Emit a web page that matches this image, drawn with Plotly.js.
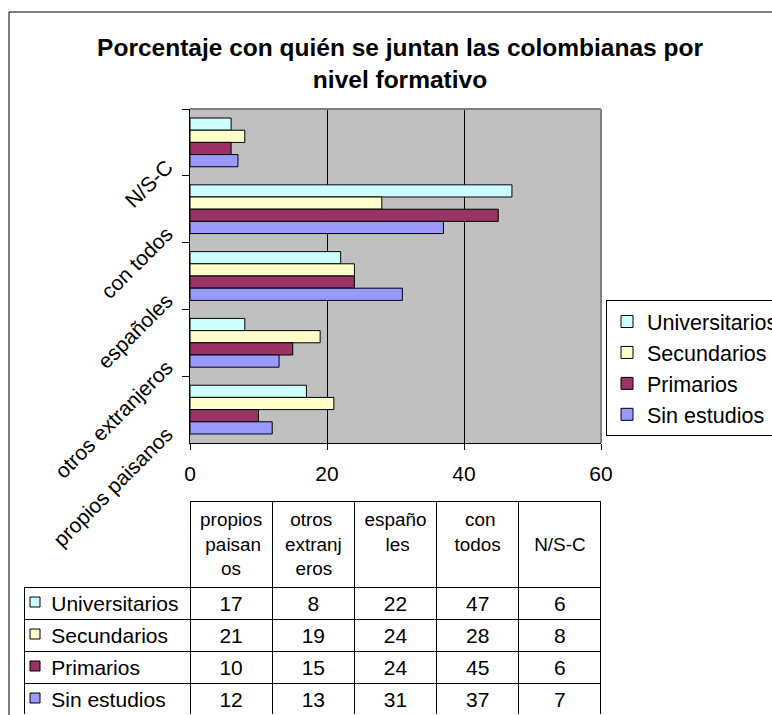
<!DOCTYPE html>
<html>
<head>
<meta charset="utf-8">
<script src="https://cdn.plot.ly/plotly-3.0.1.min.js"></script>
<style>
  html, body { margin: 0; padding: 0; background: #ffffff; overflow: hidden; width: 772px; height: 715px; }
  #chart { width: 820px; height: 715px; }
</style>
</head>
<body>
<div id="chart"></div>
<script>
// ---- data ----
const categories = ['propios paisanos', 'otros extranjeros', 'españoles', 'con todos', 'N/S-C'];
const headerLines = [['propios', 'paisan', 'os'], ['otros', 'extranj', 'eros'], ['españo', 'les'], ['con', 'todos'], ['N/S-C']];
const seriesNames = ['Universitarios', 'Secundarios', 'Primarios', 'Sin estudios'];
const universitarios = [17, 8, 22, 47, 6];
const secundarios = [21, 19, 24, 28, 8];
const primarios = [10, 15, 24, 45, 6];
const sinEstudios = [12, 13, 31, 37, 7];
const xTickValues = [0, 20, 40, 60];
const chartTitle = 'Porcentaje con quién se juntan las colombianas por<br>nivel formativo';

// ---- styles ----
const seriesValues = [universitarios, secundarios, primarios, sinEstudios];
const seriesColors = ['#CCFFFF', '#FFFFCC', '#993366', '#9999FF'];
const FONT = 'Liberation Sans, Arial, Helvetica, sans-serif';
const HEADER_FONT_SIZE = 18.9;
const CELL_FONT_SIZE = 21;
const W = 820, H = 715;
const px = v => v / W;          // pixel -> paper x
const py = v => 1 - v / H;      // pixel -> paper y

// plot area pixels
const PL = 190, PR = 601, PT = 109, PB = 443;
// table pixels
const TL = 24, TR = 601, TT = 501, HEADER_H = 85, ROW_H = 32;

// centre each line of a multi-line header inside its block with no-break spaces
const ctx = document.createElement('canvas').getContext('2d');
ctx.font = HEADER_FONT_SIZE + 'px "Liberation Sans"';
function centredLines(lines) {
  const nb = ctx.measureText('\u00a0').width || HEADER_FONT_SIZE * 0.278;
  const widths = lines.map(l => ctx.measureText(l).width);
  const maxW = Math.max.apply(null, widths);
  const out = lines.map((l, i) => '\u00a0'.repeat(Math.max(0, Math.round((maxW - widths[i]) / 2 / nb))) + l);
  if (lines.length === 1) out.unshift('\u00a0');
  return out.join('<br>');
}

const traces = [];
seriesNames.forEach((name, i) => {
  traces.push({
    type: 'bar',
    orientation: 'h',
    name: name,
    y: categories,
    x: seriesValues[i],
    marker: { color: seriesColors[i], line: { color: '#000000', width: 1 } },
    hoverinfo: 'x+name'
  });
});

// data table
const cellCols = [seriesNames.map(n => '\u00a0\u00a0\u00a0\u200a' + n)];
for (let c = 0; c < categories.length; c++) {
  cellCols.push(seriesValues.map(s => String(s[c])));
}
const nCols = categories.length;
traces.push({
  type: 'table',
  domain: { x: [px(TL), px(TR)], y: [0, py(TT)] },
  columnwidth: [PL - TL].concat(categories.map(() => (TR - PL) / nCols)),
  header: {
    values: [''].concat(headerLines.map(centredLines)),
    height: HEADER_H,
    align: ['center'].concat(categories.map(() => 'center')),
    font: { family: FONT, size: HEADER_FONT_SIZE, color: '#000000' },
    fill: { color: 'rgba(0,0,0,0)' },
    line: { color: ['rgba(0,0,0,0)'].concat(categories.map(() => '#000000')), width: 1 }
  },
  cells: {
    values: cellCols,
    height: ROW_H,
    align: ['left'].concat(categories.map(() => 'center')),
    font: { family: FONT, size: CELL_FONT_SIZE, color: '#000000' },
    fill: { color: 'rgba(0,0,0,0)' },
    line: { color: '#000000', width: 1 }
  }
});

// legend keys inside the data table
traces.push({
  type: 'scatter',
  mode: 'markers',
  xaxis: 'x2',
  yaxis: 'y2',
  x: seriesNames.map(() => 11),
  y: seriesNames,
  marker: { symbol: 'square', size: 10, color: seriesColors, line: { color: '#000000', width: 1 } },
  showlegend: false,
  hoverinfo: 'skip'
});

const layout = {
  width: W,
  height: H,
  margin: { l: 0, r: 0, t: 0, b: 0, pad: 0 },
  paper_bgcolor: '#ffffff',
  plot_bgcolor: '#C0C0C0',
  font: { family: FONT, size: 21, color: '#000000' },
  title: {
    text: '<b>' + chartTitle + '</b>',
    font: { family: FONT, size: 24.5, color: '#000000' },
    xref: 'container', yref: 'container',
    x: 400 / W, xanchor: 'center',
    y: py(56), yanchor: 'top'
  },
  barmode: 'group',
  bargap: 0.27,
  bargroupgap: 0,
  xaxis: {
    domain: [px(PL), px(PR)],
    range: [0, 60],
    tickvals: xTickValues,
    ticks: 'outside',
    ticklen: 6,
    tickcolor: '#000000',
    showline: true,
    linecolor: '#000000',
    linewidth: 1,
    showgrid: true,
    gridcolor: '#000000',
    gridwidth: 1,
    zeroline: false,
    ticklabelstandoff: 6,
    tickfont: { family: FONT, size: 21, color: '#000000' },
    fixedrange: true,
    automargin: false
  },
  yaxis: {
    domain: [py(PB), py(PT)],
    type: 'category',
    categoryorder: 'array',
    categoryarray: categories.slice().reverse(),
    autorange: 'reversed',
    ticks: 'outside',
    tickson: 'boundaries',
    ticklen: 7,
    tickcolor: '#000000',
    showline: true,
    linecolor: '#000000',
    linewidth: 1,
    showgrid: false,
    zeroline: false,
    tickangle: -45,
    ticklabelshift: -22,
    ticklabelstandoff: 18,
    tickfont: { family: FONT, size: 21, color: '#000000' },
    fixedrange: true,
    automargin: false
  },
  xaxis2: {
    domain: [px(TL), px(PL)],
    range: [0, PL - TL],
    anchor: 'y2',
    visible: false,
    fixedrange: true
  },
  yaxis2: {
    domain: [py(TT + HEADER_H + ROW_H * 4), py(TT + HEADER_H)],
    type: 'category',
    categoryorder: 'array',
    categoryarray: seriesNames.slice().reverse(),
    range: [-0.5, seriesNames.length - 0.5],
    anchor: 'x2',
    visible: false,
    fixedrange: true
  },
  showlegend: true,
  legend: {
    x: px(606), xanchor: 'left',
    y: py(300), yanchor: 'top',
    xref: 'paper', yref: 'paper',
    traceorder: 'normal',
    bgcolor: '#ffffff',
    bordercolor: '#000000',
    borderwidth: 1,
    font: { family: FONT, size: 21.5, color: '#000000' }
  },
  shapes: [
    // white ground under the table's key column
    { type: 'rect', xref: 'x2 domain', yref: 'y2 domain', x0: 0, x1: 1, y0: 0, y1: 1, layer: 'below', fillcolor: '#ffffff', line: { width: 0 } },
    // outer chart frame (top and left edges)
    { type: 'line', xref: 'paper', yref: 'paper', x0: px(9), x1: 1, y0: py(12), y1: py(12), line: { color: '#000000', width: 1 } },
    { type: 'line', xref: 'paper', yref: 'paper', x0: px(9), x1: px(9), y0: py(12), y1: 0, line: { color: '#000000', width: 1 } },
    // plot area border (top and right, grey)
    { type: 'line', xref: 'x domain', yref: 'y domain', x0: 0, x1: 1, y0: 1, y1: 1, line: { color: '#808080', width: 2 } },
    { type: 'line', xref: 'x domain', yref: 'y domain', x0: 1, x1: 1, y0: 0, y1: 1, line: { color: '#808080', width: 2 } }
  ]
};

Plotly.newPlot('chart', traces, layout, { displayModeBar: false, staticPlot: true });
</script>
</body>
</html>
